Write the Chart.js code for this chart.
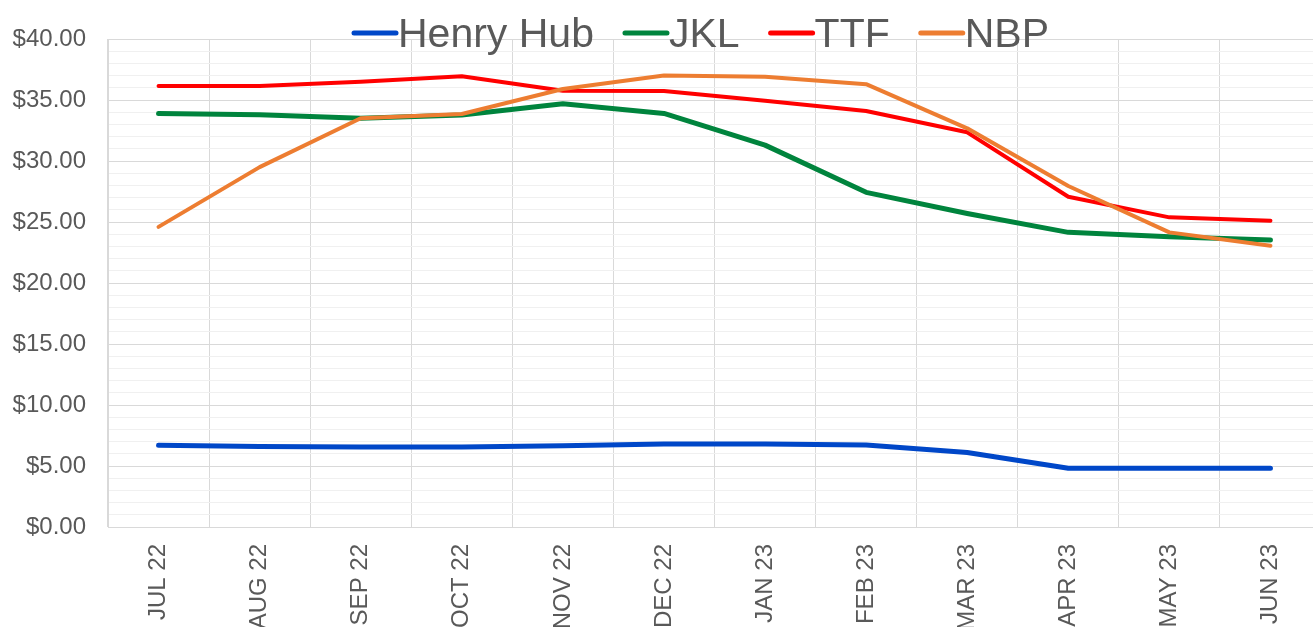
<!DOCTYPE html>
<html>
<head>
<meta charset="utf-8">
<script src="https://cdn.jsdelivr.net/npm/chart.js@4.4.0/dist/chart.umd.min.js"></script>
<style>
  html, body { margin: 0; padding: 0; background: #fff; overflow: hidden; }
  #wrap { width: 1313px; height: 627px; overflow: hidden; }
</style>
</head>
<body>
<div id="wrap"><canvas id="chart" width="1321" height="627"></canvas></div>
<script>
var months = ["JUL 22", "AUG 22", "SEP 22", "OCT 22", "NOV 22", "DEC 22",
  "JAN 23", "FEB 23", "MAR 23", "APR 23", "MAY 23", "JUN 23"];

var henryHub = [6.70, 6.60, 6.55, 6.55, 6.65, 6.80, 6.80, 6.72, 6.10, 4.82, 4.82, 4.82];
var jkl      = [33.90, 33.80, 33.50, 33.77, 34.70, 33.90, 31.30, 27.43, 25.70, 24.15, 23.80, 23.52];
var ttf      = [36.15, 36.15, 36.50, 36.95, 35.76, 35.74, 34.94, 34.10, 32.35, 27.07, 25.38, 25.10];
var nbp      = [24.60, 29.50, 33.50, 33.85, 35.90, 37.00, 36.90, 36.30, 32.68, 27.95, 24.15, 23.06];

var textColor = "#595959";
var fontFamily = "'Liberation Sans', Arial, sans-serif";

function money(v) {
  return "$" + v.toFixed(2);
}

// legend drawn by hand so the line sample sits right against its text
var topLegend = {
  id: "topLegend",
  afterDraw: function (chart) {
    var ctx = chart.ctx;
    var x = 352;
    var y = 33;
    ctx.save();
    ctx.font = "41px " + fontFamily;
    ctx.textBaseline = "alphabetic";
    chart.data.datasets.forEach(function (ds) {
      ctx.beginPath();
      ctx.lineCap = "round";
      ctx.lineWidth = 5;
      ctx.strokeStyle = ds.borderColor;
      ctx.moveTo(x + 2, y);
      ctx.lineTo(x + 44, y);
      ctx.stroke();
      x += 46;
      ctx.fillStyle = textColor;
      ctx.fillText(ds.label, x, y + 14);
      x += ctx.measureText(ds.label).width + 29;
    });
    ctx.restore();
  }
};

var ctx = document.getElementById("chart").getContext("2d");

new Chart(ctx, {
  type: "line",
  data: {
    labels: months,
    datasets: [
      { label: "Henry Hub", data: henryHub, borderColor: "#0047c8", backgroundColor: "#0047c8", borderWidth: 5, order: 3 },
      { label: "JKL", data: jkl, borderColor: "#00843d", backgroundColor: "#00843d", borderWidth: 5, order: 2 },
      { label: "TTF", data: ttf, borderColor: "#ff0000", backgroundColor: "#ff0000", borderWidth: 4, order: 1 },
      { label: "NBP", data: nbp, borderColor: "#ed7d31", backgroundColor: "#ed7d31", borderWidth: 4, order: 0 }
    ]
  },
  options: {
    responsive: false,
    animation: false,
    layout: { padding: { top: 39, left: 0, right: 0, bottom: 0 } },
    elements: {
      point: { radius: 0, hoverRadius: 0 },
      line: { tension: 0, borderCapStyle: "round", borderJoinStyle: "round" }
    },
    plugins: {
      legend: { display: false },
      tooltip: { enabled: false }
    },
    scales: {
      x: {
        offset: true,
        grid: { offset: true, color: "#d9d9d9", drawTicks: false },
        border: { color: "#d9d9d9" },
        ticks: {
          color: textColor,
          font: { family: fontFamily, size: 24 },
          minRotation: 90,
          maxRotation: 90,
          autoSkip: false,
          padding: 17
        },
        afterFit: function (scale) { scale.height = 100; }
      },
      y: {
        min: 0,
        max: 40,
        grid: {
          drawTicks: false,
          color: function (c) {
            return c.tick && c.tick.value % 5 === 0 ? "#d9d9d9" : "#f0f0f0";
          }
        },
        border: { color: "#d9d9d9" },
        ticks: {
          stepSize: 1,
          autoSkip: false,
          color: textColor,
          font: { family: fontFamily, size: 24 },
          padding: 22,
          callback: function (v) {
            return v % 5 === 0 ? money(v) : "";
          }
        },
        afterFit: function (scale) { scale.width = 108; }
      }
    }
  },
  plugins: [topLegend]
});
</script>
</body>
</html>
